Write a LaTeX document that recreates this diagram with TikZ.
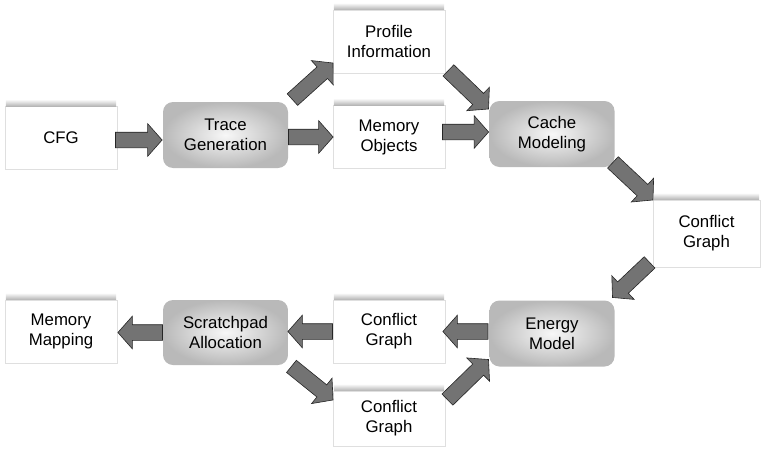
\documentclass[tikz,border=0pt]{standalone}
\usepackage{fontspec}
\setmainfont{Liberation Sans}
\usetikzlibrary{shapes.arrows,calc}

% block arrow from one named point to another
\newcommand\flowto[2]{%
  \path let \p1=($(#2)-(#1)$) in
    (#1) -- node[flow,pos=0,minimum height={veclen(\x1,\y1)}]{} (#2);}
% soft shadow strip along the top edge of a box
\newcommand\topshade[1]{%
  \shade[top color=white,bottom color=gray!60]
    ($(#1.north west)+(1,-7)$) rectangle ($(#1.north east)+(-1,0)$);}

\begin{document}
\begin{tikzpicture}[x=1pt,y=-1pt,
  lbl/.style={align=center,font=\fontsize{16.8}{20}\selectfont},
  box/.style={lbl,draw=gray!25,fill=white,minimum width=112pt,minimum height=63pt},
  stage/.style={lbl,rounded corners=10pt,inner color=gray!6,outer color=gray!55,
    minimum width=125pt,minimum height=66pt},
  flow/.style={single arrow,draw=black!85,fill=black!55,line width=0.6pt,
    inner xsep=0pt,inner ysep=7.5pt,minimum width=0pt,
    single arrow head extend=8.5pt,single arrow tip angle=97,
    anchor=tail,sloped,allow upside down}]
\useasboundingbox (0,0) rectangle (762,455);

% upper row
\node[box]   (cfg)    at (61,138)    {CFG};
\node[stage] (trace)  at (225.5,135) {Trace\\Generation};
\node[box]   (prof)   at (389,41.5)  {Profile\\Information};
\node[box]   (memobj) at (389,137)   {Memory\\Objects};
\node[stage] (cache)  at (552,134)   {Cache\\Modeling};
\node[box,minimum width=107pt,minimum height=67pt] (cgR) at (706.5,233.5) {Conflict\\Graph};

% lower row
\node[stage] (energy)  at (552,333.5)   {Energy\\Model};
\node[box]   (cgM)     at (389,331.5)   {Conflict\\Graph};
\node[box,minimum height=55pt] (cgB) at (389,418.5) {Conflict\\Graph};
\node[stage,minimum height=65pt] (scratch) at (225.5,332.5) {Scratchpad\\Allocation};
\node[box]   (memmap)  at (61,331.5)    {Memory\\Mapping};

\foreach \n in {cfg,prof,memobj,cgR,cgM,cgB,memmap} {\topshade{\n}}

% arrow end points
\coordinate (t1) at ($(cfg.east)+(-2,2)$);
\coordinate (h1) at ($(trace.west)+(-1,5)$);
\coordinate (t2) at ($(trace.north east)+(4,-2)$);
\coordinate (h2) at ($(prof.south west)+(0,-10)$);
\coordinate (t3) at ($(trace.east)+(0,2)$);
\coordinate (h3) at (memobj.west);
\coordinate (t4) at ($(prof.south east)+(3,-3)$);
\coordinate (h4) at ($(cache.north west)+(-1,8)$);
\coordinate (t5) at ($(memobj.east)+(-3,-5)$);
\coordinate (h5) at ($(cache.west)+(-1,-2)$);
\coordinate (t6) at ($(cache.south east)+(-2,-5)$);
\coordinate (h6) at (cgR.north west);
\coordinate (t7) at ($(cgR.south west)+(-3,-5)$);
\coordinate (h7) at ($(energy.north east)+(-2,-3)$);
\coordinate (t8) at ($(energy.west)+(-1,-2)$);
\coordinate (h8) at ($(cgM.east)+(-2,0)$);
\coordinate (t9) at (cgM.west);
\coordinate (h9) at ($(scratch.east)+(0,-1)$);
\coordinate (t10) at (scratch.west);
\coordinate (h10) at ($(memmap.east)+(1,1)$);
\coordinate (t11) at ($(scratch.south east)+(3,1)$);
\coordinate (h11) at ($(cgB.north west)+(0,9)$);
\coordinate (t12) at ($(cgB.north east)+(2,9)$);
\coordinate (h12) at ($(energy.south west)+(-1,-7)$);

\flowto{t1}{h1}
\flowto{t2}{h2}
\flowto{t3}{h3}
\flowto{t4}{h4}
\flowto{t5}{h5}
\flowto{t6}{h6}
\flowto{t7}{h7}
\flowto{t8}{h8}
\flowto{t9}{h9}
\flowto{t10}{h10}
\flowto{t11}{h11}
\flowto{t12}{h12}
\end{tikzpicture}
\end{document}
